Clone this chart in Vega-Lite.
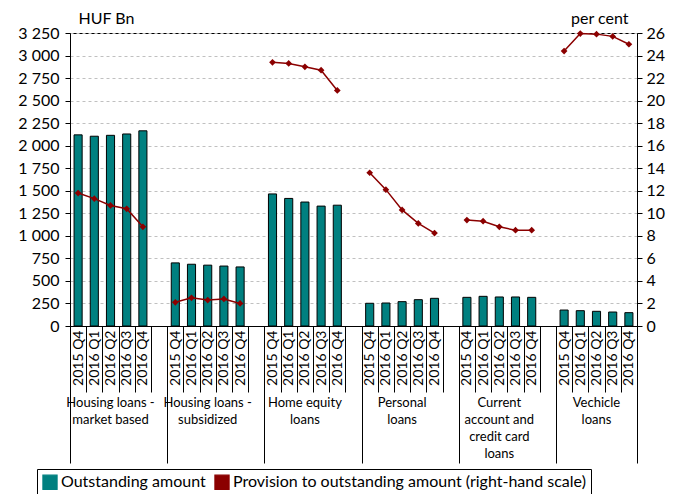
{
  "$schema": "https://vega.github.io/schema/vega-lite/v6.json",
  "width": 567,
  "height": 293,
  "autosize": {"type": "none"},
  "padding": {"left": 70, "top": 33, "right": 48, "bottom": 168},
  "config": {
    "font": "Lato",
    "view": {"stroke": "#000", "strokeWidth": 1},
    "axis": {"labelColor": "#000", "titleColor": "#000", "domainColor": "#000", "tickColor": "#000"}
  },
  "data": {
    "values": [
      {"group": "A", "slot": "A 2015 Q4", "outstanding": 2120, "provision": 11.8},
      {"group": "A", "slot": "A 2016 Q1", "outstanding": 2105, "provision": 11.3},
      {"group": "A", "slot": "A 2016 Q2", "outstanding": 2115, "provision": 10.7},
      {"group": "A", "slot": "A 2016 Q3", "outstanding": 2130, "provision": 10.4},
      {"group": "A", "slot": "A 2016 Q4", "outstanding": 2165, "provision": 8.8},
      {"group": "B", "slot": "B 2015 Q4", "outstanding": 700, "provision": 2.1},
      {"group": "B", "slot": "B 2016 Q1", "outstanding": 685, "provision": 2.5},
      {"group": "B", "slot": "B 2016 Q2", "outstanding": 675, "provision": 2.3},
      {"group": "B", "slot": "B 2016 Q3", "outstanding": 665, "provision": 2.4},
      {"group": "B", "slot": "B 2016 Q4", "outstanding": 655, "provision": 2.0},
      {"group": "C", "slot": "C 2015 Q4", "outstanding": 1465, "provision": 23.4},
      {"group": "C", "slot": "C 2016 Q1", "outstanding": 1415, "provision": 23.3},
      {"group": "C", "slot": "C 2016 Q2", "outstanding": 1375, "provision": 23.0},
      {"group": "C", "slot": "C 2016 Q3", "outstanding": 1330, "provision": 22.7},
      {"group": "C", "slot": "C 2016 Q4", "outstanding": 1340, "provision": 20.9},
      {"group": "D", "slot": "D 2015 Q4", "outstanding": 252, "provision": 13.6},
      {"group": "D", "slot": "D 2016 Q1", "outstanding": 255, "provision": 12.1},
      {"group": "D", "slot": "D 2016 Q2", "outstanding": 270, "provision": 10.3},
      {"group": "D", "slot": "D 2016 Q3", "outstanding": 292, "provision": 9.1},
      {"group": "D", "slot": "D 2016 Q4", "outstanding": 307, "provision": 8.25},
      {"group": "E", "slot": "E 2015 Q4", "outstanding": 318, "provision": 9.4},
      {"group": "E", "slot": "E 2016 Q1", "outstanding": 329, "provision": 9.3},
      {"group": "E", "slot": "E 2016 Q2", "outstanding": 322, "provision": 8.8},
      {"group": "E", "slot": "E 2016 Q3", "outstanding": 322, "provision": 8.5},
      {"group": "E", "slot": "E 2016 Q4", "outstanding": 318, "provision": 8.5},
      {"group": "F", "slot": "F 2015 Q4", "outstanding": 177, "provision": 24.4},
      {"group": "F", "slot": "F 2016 Q1", "outstanding": 170, "provision": 25.95},
      {"group": "F", "slot": "F 2016 Q2", "outstanding": 163, "provision": 25.9},
      {"group": "F", "slot": "F 2016 Q3", "outstanding": 155, "provision": 25.7},
      {"group": "F", "slot": "F 2016 Q4", "outstanding": 148, "provision": 25.0}
    ]
  },
  "layer": [
    {
      "mark": {"type": "bar", "stroke": "#000", "strokeWidth": 1, "width": {"band": 0.5}},
      "encoding": {
        "x": {
          "field": "slot", "type": "nominal", "sort": null,
          "scale": {"domain": ["A 2015 Q4","A 2016 Q1","A 2016 Q2","A 2016 Q3","A 2016 Q4","A gap","B 2015 Q4","B 2016 Q1","B 2016 Q2","B 2016 Q3","B 2016 Q4","B gap","C 2015 Q4","C 2016 Q1","C 2016 Q2","C 2016 Q3","C 2016 Q4","C gap","D 2015 Q4","D 2016 Q1","D 2016 Q2","D 2016 Q3","D 2016 Q4","D gap","E 2015 Q4","E 2016 Q1","E 2016 Q2","E 2016 Q3","E 2016 Q4","E gap","F 2015 Q4","F 2016 Q1","F 2016 Q2","F 2016 Q3","F 2016 Q4"], "paddingInner": 0, "paddingOuter": 0},
          "axis": {
            "orient": "bottom", "title": null,
            "labelExpr": "isString(datum.value) ? (indexof(datum.value, 'gap') >= 0 ? '' : substring(datum.value, 2)) : ''",
            "labelAngle": 270, "labelFontSize": 14,
            "tickBand": "extent", "tickSize": 66, "labelPadding": -62,
            "labelOverlap": false, "labelBound": false, "grid": false
          }
        },
        "y": {
          "field": "outstanding", "type": "quantitative",
          "scale": {"domain": [0, 3250], "nice": false},
          "axis": {
            "values": [0,250,500,750,1000,1250,1500,1750,2000,2250,2500,2750,3000,3250],
            "labelExpr": "isNumber(datum.value) ? replace(format(datum.value, ','), ',', ' ') : ''",
            "labelFontSize": 16, "labelPadding": 6, "tickSize": 5,
            "grid": true, "gridDash": [3, 3], "gridColor": "#c0c0c0",
            "title": "HUF Bn", "titleAngle": 0, "titleAlign": "left", "titleBaseline": "middle",
            "titleX": 8, "titleY": -15, "titleFontSize": 16, "titleFontWeight": "normal"
          }
        },
        "color": {
          "datum": "Outstanding amount", "type": "nominal",
          "scale": {"domain": ["Outstanding amount", "Provision to outstanding amount (right-hand scale)"], "range": ["#008080", "#8b0000"]},
          "legend": {
            "orient": "none", "legendX": -33, "legendY": 436,
            "direction": "horizontal", "title": null,
            "labelFontSize": 16, "labelColor": "#000", "labelOffset": 3, "labelLimit": 0,
            "strokeColor": "#000", "padding": 5, "columnPadding": 6,
            "symbolSize": 200, "symbolStrokeWidth": 1.2,
            "encode": {
              "symbols": {
                "fill": {"value": {"expr": "datum.value === 'Outstanding amount' ? '#008080' : '#8b0000'"}},
                "stroke": {"value": {"expr": "datum.value === 'Outstanding amount' ? '#000' : '#8b0000'"}},
                "opacity": {"value": 1},
                "fillOpacity": {"value": 1}
              }
            }
          }
        }
      }
    },
    {
      "mark": {"type": "line", "strokeWidth": 1.5, "point": {"shape": "diamond", "filled": true, "size": 45}},
      "encoding": {
        "x": {
          "field": "slot", "type": "nominal", "sort": null,
          "axis": {
            "orient": "bottom", "title": null,
            "values": ["A 2016 Q2", "B 2016 Q2", "C 2016 Q2", "D 2016 Q2", "E 2016 Q2", "F 2016 Q2"],
            "labelExpr": "datum.value == 'A 2016 Q2' ? ['Housing loans -', 'market based'] : datum.value == 'B 2016 Q2' ? ['Housing loans -', 'subsidized'] : datum.value == 'C 2016 Q2' ? ['Home equity', 'loans'] : datum.value == 'D 2016 Q2' ? ['Personal', 'loans'] : datum.value == 'E 2016 Q2' ? ['Current', 'account and', 'credit card', 'loans'] : datum.value == 'F 2016 Q2' ? ['Vechicle', 'loans'] : ''",
            "ticks": false, "domain": false, "grid": false,
            "labelAngle": 0, "labelPadding": 70, "labelFontSize": 13, "labelLineHeight": 17,
            "labelBaseline": "top", "labelOverlap": false, "labelBound": false
          }
        },
        "y": {
          "field": "provision", "type": "quantitative",
          "scale": {"domain": [0, 26], "nice": false},
          "axis": {
            "orient": "right",
            "values": [0,2,4,6,8,10,12,14,16,18,20,22,24,26],
            "labelFontSize": 16, "labelPadding": 4, "tickSize": 5, "grid": false,
            "title": "per cent", "titleAngle": 0, "titleAlign": "right", "titleBaseline": "middle",
            "titleX": -9, "titleY": -15, "titleFontSize": 16, "titleFontWeight": "normal"
          }
        },
        "detail": {"field": "group"},
        "color": {"datum": "Provision to outstanding amount (right-hand scale)", "type": "nominal"}
      }
    },
    {
      "mark": {"type": "point", "opacity": 0},
      "encoding": {
        "x": {
          "field": "slot", "type": "nominal", "sort": null,
          "axis": {
            "orient": "bottom", "title": null, "labels": false, "domain": false, "grid": false,
            "values": ["A 2015 Q4", "B 2015 Q4", "C 2015 Q4", "D 2015 Q4", "E 2015 Q4", "F 2015 Q4"],
            "tickSize": 137, "tickOffset": -8.1
          }
        }
      }
    },
    {
      "mark": {"type": "point", "opacity": 0},
      "encoding": {
        "x": {
          "field": "slot", "type": "nominal", "sort": null,
          "axis": {
            "orient": "bottom", "title": null, "labels": false, "domain": false, "grid": false,
            "values": ["F 2016 Q4"],
            "tickSize": 137, "tickOffset": 8.1
          }
        }
      }
    }
  ],
  "resolve": {"scale": {"y": "independent"}, "axis": {"x": "independent"}}
}
